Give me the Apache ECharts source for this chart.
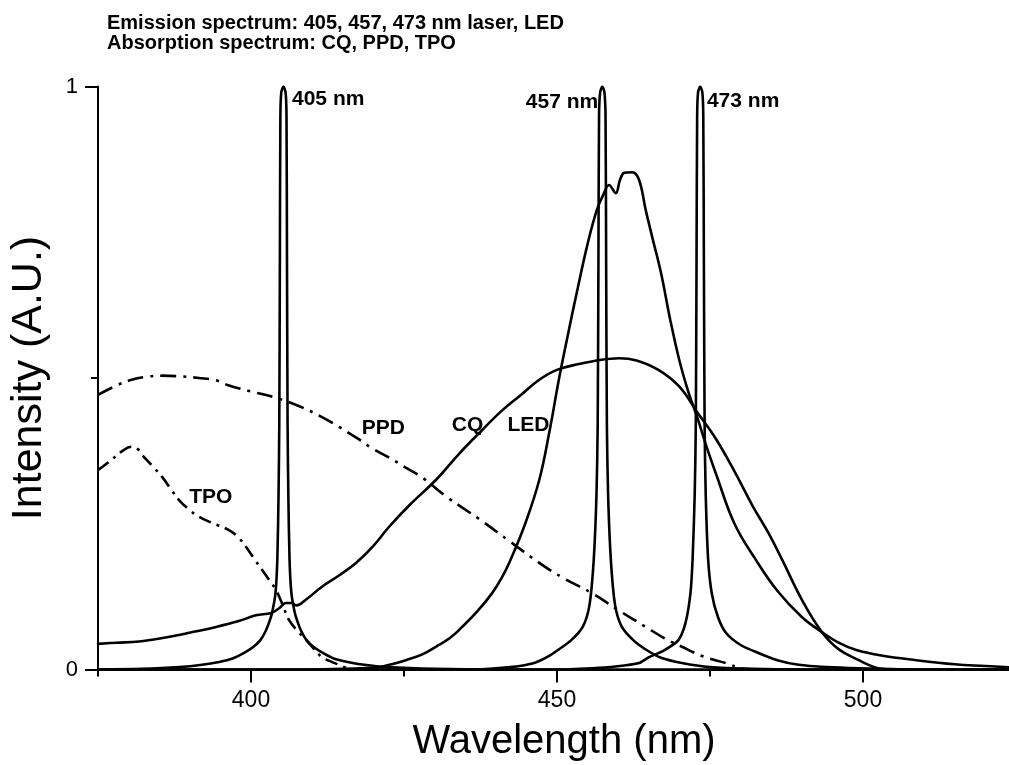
<!DOCTYPE html>
<html><head><meta charset="utf-8">
<script src="https://cdn.jsdelivr.net/npm/echarts@6/dist/echarts.min.js"></script>
<style>html,body{margin:0;padding:0;background:#fff}#c{width:1009px;height:765px}</style>
</head><body><div id="c"></div>
<script>
const FONT = 'Liberation Sans, Arial, sans-serif';
const titleLines = ['Emission spectrum: 405, 457, 473 nm laser, LED', 'Absorption spectrum: CQ, PPD, TPO'];
const xName = 'Wavelength (nm)';
const yName = 'Intensity (A.U.)';
const xMajorTicks = [400, 450, 500];
const xMinorTicks = [375, 425, 475];

const laser405 = [[375,0],[382,0.001],[388.3,0.004],[392,0.008],[394.8,0.013],[397,0.019],[398.8,0.028],[400.3,0.038],[401.5,0.05],[402.4,0.066],[403.1,0.085],[403.5,0.10],[404.0,0.131],[404.3,0.188],[404.5,0.3],[404.62,0.42],[404.72,0.7],[404.8,0.95],[404.95,0.99],[405.3,1.0],[405.65,0.99],[405.8,0.95],[405.88,0.7],[405.98,0.42],[406.1,0.3],[406.3,0.188],[406.6,0.131],[407.1,0.10],[407.5,0.085],[408.2,0.066],[409.1,0.05],[410.3,0.038],[411.8,0.028],[413.5,0.019],[415.8,0.013],[418.5,0.008],[422.3,0.004],[430,0.001],[440,0],[525,0]];
const laser457 = [[375,0],[436,0],[441,0.003],[443.9,0.006],[446.5,0.012],[448.5,0.022],[450.1,0.033],[452.3,0.05],[454.2,0.073],[455.3,0.11],[456.0,0.188],[456.45,0.3],[456.65,0.42],[456.77,0.7],[456.87,0.95],[457.05,0.99],[457.4,1.0],[457.75,0.99],[457.93,0.95],[458.03,0.7],[458.15,0.42],[458.35,0.3],[458.8,0.188],[459.5,0.11],[460.6,0.073],[462.5,0.05],[464.7,0.033],[467,0.02],[470.4,0.011],[475,0.004],[482,0.001],[490,0],[525,0]];
const laser473 = [[375,0],[450,0],[456.9,0.003],[461,0.007],[463.4,0.011],[465.0,0.021],[467.5,0.033],[469.8,0.05],[471.0,0.08],[471.8,0.13],[472.15,0.188],[472.5,0.3],[472.68,0.42],[472.8,0.7],[472.9,0.95],[473.05,0.99],[473.4,1.0],[473.75,0.99],[473.9,0.95],[474.0,0.7],[474.12,0.42],[474.3,0.3],[474.7,0.188],[475.3,0.13],[476.3,0.09],[477.6,0.063],[480,0.042],[483.0,0.028],[486,0.016],[489.5,0.008],[494,0.004],[499.3,0.002],[510,0],[525,0]];
const ledEmission = [[410,0],[415,0.001],[418,0.002],[420.9,0.004],[423,0.009],[425.3,0.016],[428,0.026],[430.2,0.039],[432.5,0.054],[434.5,0.073],[437,0.1],[439.4,0.131],[441,0.158],[442.4,0.188],[444.8,0.25],[447.1,0.325],[448.8,0.41],[450.3,0.497],[451.8,0.575],[453.2,0.645],[455,0.73],[456.5,0.788],[457.6,0.815],[458.5,0.831],[459.6,0.817],[460.3,0.84],[461,0.852],[462.3,0.853],[463.4,0.84],[464.5,0.788],[465.6,0.74],[467,0.68],[468.5,0.6],[470,0.53],[471.5,0.475],[473,0.43],[474.5,0.38],[476,0.335],[479,0.25],[482.5,0.188],[486,0.135],[490,0.09],[493.3,0.064],[496,0.046],[498.9,0.0335],[503,0.024],[508.7,0.016],[515,0.009],[520,0.006],[525,0.003]];
const cqAbsorption = [[375,0.044],[378,0.046],[381.7,0.048],[386,0.055],[389.9,0.063],[394.3,0.073],[398,0.083],[400.8,0.093],[403.3,0.097],[404.6,0.105],[405.7,0.114],[406.6,0.114],[407.4,0.11],[409,0.12],[411.6,0.142],[414.5,0.162],[417.2,0.183],[420,0.212],[422.5,0.244],[426,0.283],[430.2,0.325],[434,0.37],[437.7,0.41],[441,0.444],[444,0.47],[447.1,0.497],[450,0.514],[453.6,0.524],[457,0.531],[460.1,0.534],[463,0.53],[466.7,0.513],[470,0.485],[473,0.44],[476,0.395],[479,0.34],[482,0.28],[484.5,0.235],[486.8,0.188],[490,0.12],[493.3,0.064],[496,0.035],[499.3,0.016],[502.1,0.003],[504,0]];
const ppdAbsorption = [[375,0.471],[378,0.487],[380.5,0.497],[382.8,0.502],[385.5,0.504],[388.2,0.503],[391.5,0.5],[394.3,0.496],[396.4,0.487],[400,0.477],[404.1,0.466],[408,0.451],[411.6,0.433],[414.4,0.416],[417.6,0.395],[420,0.378],[422.5,0.364],[425,0.348],[427.9,0.33],[432,0.296],[437.3,0.258],[442,0.222],[447.1,0.183],[451,0.157],[455.7,0.131],[460,0.102],[464.5,0.073],[467.5,0.054],[470.4,0.039],[474,0.022],[477.6,0.011],[479.7,0.003],[481,0]];
const tpoAbsorption = [[375,0.342],[377,0.358],[379,0.375],[380.4,0.382],[381.5,0.378],[382.2,0.368],[384,0.348],[385.5,0.33],[387,0.308],[388.2,0.291],[389.9,0.274],[391.5,0.262],[393.5,0.252],[396.4,0.239],[398,0.226],[399.2,0.21],[400.5,0.19],[401.8,0.171],[403,0.153],[404.1,0.136],[405.2,0.11],[406.2,0.085],[407.6,0.066],[409,0.051],[410.3,0.035],[411.6,0.021],[413,0.014],[414.4,0.008],[415.5,0.003],[416.5,0]];

// annotation labels: [wavelength, intensity, text]
const curveLabels = [[406.7,0.979,'405 nm'],[444.9,0.973,'457 nm'],[474.5,0.975,'473 nm'],[418.1,0.414,'PPD'],[432.8,0.419,'CQ'],[441.9,0.419,'LED'],[389.9,0.296,'TPO']];

const chart = echarts.init(document.getElementById('c'), null, {renderer:'canvas'});
const solid = {color:'#000', width:2.6, cap:'round', join:'round'};
function lineSeries(name, data, style, smooth) {
  return {name, type:'line', data, showSymbol:false, symbol:'none', smooth: smooth,
    lineStyle: style, silent:true, animation:false, xAxisIndex:0, yAxisIndex:0, z:3};
}
const option = {
  animation:false,
  backgroundColor:'#fff',
  title:{text:titleLines.join('\n'), left:107, top:13, padding:0,
    textStyle:{fontFamily:FONT, fontSize:20, fontWeight:'bold', color:'#000', lineHeight:20}},
  grid:{left:98, right:-7, top:86.5, bottom:95.5, containLabel:false, outerBoundsMode:'none'},
  xAxis:[{
    type:'value', min:375, max:525, interval:25, position:'bottom', offset:0,
    axisLine:{show:true, onZero:false, lineStyle:{color:'#000', width:2}},
    axisTick:{show:true, customValues:xMajorTicks, length:13, lineStyle:{color:'#000', width:2}},
    axisLabel:{show:true, customValues:xMajorTicks, fontFamily:FONT, fontSize:23, color:'#000', margin:20},
    splitLine:{show:false},
    name:xName, nameLocation:'middle', nameGap:52,
    nameTextStyle:{fontFamily:FONT, fontSize:40, color:'#000', padding:[0,0,0,14]}
  },{
    type:'value', min:375, max:525, interval:25, position:'bottom', offset:0,
    axisLine:{show:false},
    axisTick:{show:true, customValues:xMinorTicks, length:7, lineStyle:{color:'#000', width:2}},
    axisLabel:{show:false}, splitLine:{show:false}
  }],
  yAxis:[{
    type:'value', min:0, max:1, interval:1,
    axisLine:{show:true, onZero:false, lineStyle:{color:'#000', width:2}},
    axisTick:{show:true, length:13, lineStyle:{color:'#000', width:2}},
    minorTick:{show:true, splitNumber:2, length:7, lineStyle:{color:'#000', width:2}},
    axisLabel:{fontFamily:FONT, fontSize:22, color:'#000', margin:20},
    splitLine:{show:false}, minorSplitLine:{show:false},
    name:yName, nameLocation:'middle', nameGap:47, nameRotate:90,
    nameTextStyle:{fontFamily:FONT, fontSize:43, color:'#000'}
  }],
  series:[
    lineSeries('405 nm laser', laser405, solid, 0.25),
    lineSeries('457 nm laser', laser457, solid, 0.25),
    lineSeries('473 nm laser', laser473, solid, 0.25),
    lineSeries('LED', ledEmission, solid, 0.4),
    lineSeries('CQ', cqAbsorption, solid, 0.4),
    lineSeries('PPD', ppdAbsorption, {color:'#000', width:2.6, type:[16,7,3,7], cap:'butt'}, 0.4),
    lineSeries('TPO', tpoAbsorption, {color:'#000', width:2.6, type:[13,6,3,6], cap:'butt'}, 0.4),
    {name:'labels', type:'scatter', data:curveLabels, symbolSize:0, silent:true, z:5,
      itemStyle:{color:'#000', opacity:1},
      encode:{x:0, y:1},
      label:{show:true, position:'right', distance:0, formatter:p => p.data[2], opacity:1,
        fontFamily:FONT, fontSize:21, fontWeight:'bold', color:'#000', textBorderWidth:0}}
  ]
};
chart.setOption(option);
</script>
</body></html>
